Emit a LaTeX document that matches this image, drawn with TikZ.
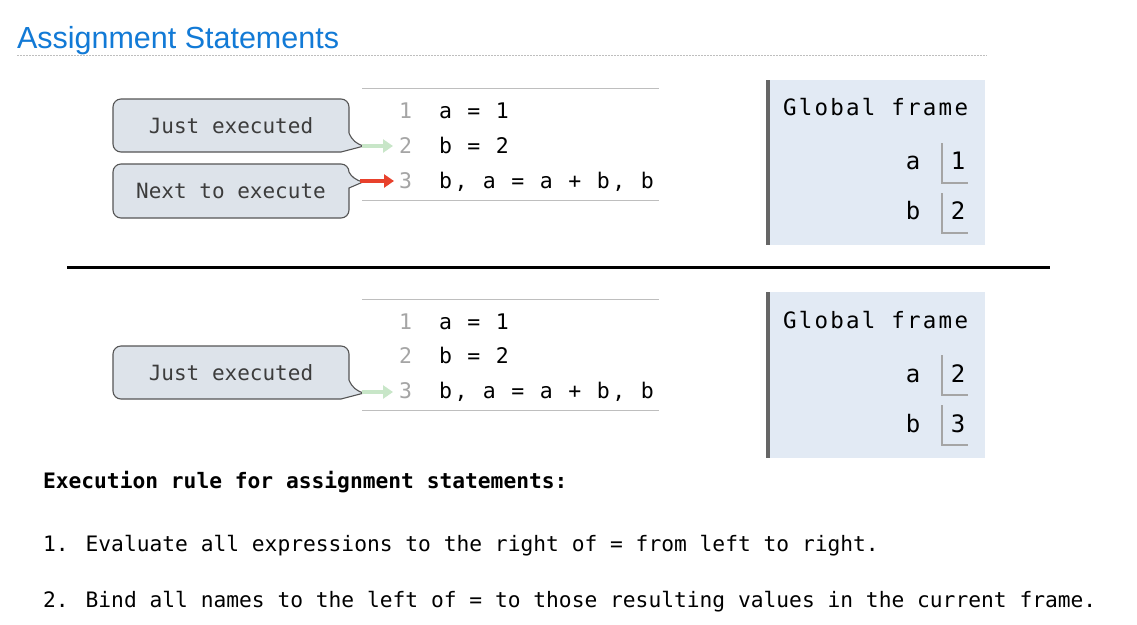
\documentclass[tikz,border=0pt]{standalone}
\usepackage{fontspec}
\usetikzlibrary{arrows.meta}
\newfontfamily\codefont[LetterSpace=12]{DejaVu Sans Mono}
\newfontfamily\framefont[LetterSpace=10]{DejaVu Sans Mono}
\newfontfamily\monofont{DejaVu Sans Mono}
\newfontfamily\titlefont{Liberation Sans}
\definecolor{titleblue}{RGB}{18,122,214}
\definecolor{calloutfill}{RGB}{221,227,234}
\definecolor{framefill}{RGB}{226,234,244}
\definecolor{justgreen}{RGB}{200,230,200}
\definecolor{nextred}{RGB}{232,65,44}
\definecolor{numgray}{RGB}{165,165,165}
\definecolor{rulegray}{RGB}{190,190,190}
\definecolor{calloutline}{RGB}{85,85,85}
\definecolor{callouttext}{RGB}{60,60,60}
\begin{document}
\begin{tikzpicture}[x=1pt,y=-1pt,
  every node/.style={inner sep=0pt,outer sep=0pt},
  codetxt/.style={anchor=base west,font=\codefont\fontsize{21.5}{25}\selectfont},
  numtxt/.style={anchor=base east,font=\codefont\fontsize{21.5}{25}\selectfont,text=numgray},
  frametxt/.style={font=\framefont\fontsize{22.5}{27}\selectfont},
  vartxt/.style={anchor=base,font=\monofont\fontsize{24}{28}\selectfont},
  calloutbox/.style={draw=calloutline,fill=calloutfill,line width=1.1pt},
  callouttxt/.style={font=\monofont\fontsize{21}{25}\selectfont,text=callouttext},
  codeline/.style={draw=rulegray,line width=1pt},
  framebg/.style={fill=framefill},
  frameedge/.style={draw=black!60,line width=4pt},
  valline/.style={draw=numgray,line width=1.5pt},
  justarrow/.style={draw=justgreen,line width=4.5pt,-{Triangle[length=10pt,width=13pt]}},
  nextarrow/.style={draw=nextred,line width=4.5pt,-{Triangle[length=10pt,width=13pt]}},
  ruletxt/.style={anchor=base west,font=\monofont\fontsize{21.25}{25}\selectfont}
]
\useasboundingbox[fill=white] (0,0) rectangle (1137,624);

% title
\node[anchor=base west,font=\titlefont\fontsize{30.5}{36}\selectfont,text=titleblue] (title) at (17,48) {Assignment Statements};
\draw[rulegray,line width=1pt,dash pattern=on 1.5pt off 1.5pt] (17,55) -- (987,55);

% ---------- top section ----------
\draw[codeline] (362,88) -- (659,88);
\draw[codeline] (362,200) -- (659,200);
\node[numtxt] (n1) at (412,118.5) {1};
\node[numtxt] (n2) at (412,153.5) {2};
\node[numtxt] (n3) at (412,188.5) {3};
\node[codetxt] (c1) at (439,118.5) {a = 1};
\node[codetxt] (c2) at (439,153.5) {b = 2};
\node[codetxt] (c3) at (439,188.5) {b, a = a + b, b};

% callouts
\draw[calloutbox] (121,99) -- (341,99) .. controls (345.4,99) and (349,102.6) .. (349,107) -- (349,133)
  .. controls (352,140) and (356,144) .. (364,146) -- (341,152) -- (121,152)
  .. controls (116.6,152) and (113,148.4) .. (113,144) -- (113,107)
  .. controls (113,102.6) and (116.6,99) .. (121,99) -- cycle;
\node[callouttxt] (just1) at (231,125.5) {Just executed};
\draw[calloutbox] (121,164) -- (341,164) .. controls (345.4,164) and (349,167.6) .. (349,172)
  .. controls (351,176) and (355,180) .. (363,182) -- (349,188) -- (349,210)
  .. controls (349,214.4) and (345.4,218) .. (341,218) -- (121,218)
  .. controls (116.6,218) and (113,214.4) .. (113,210) -- (113,172)
  .. controls (113,167.6) and (116.6,164) .. (121,164) -- cycle;
\node[callouttxt] (next1) at (231,191) {Next to execute};

\coordinate (jtip1) at (362,146);
\coordinate (jend1) at (393,146);
\coordinate (ntip1) at (360,181);
\coordinate (nend1) at (394,181);
\draw[justarrow] (jtip1) -- (jend1);
\draw[nextarrow] (ntip1) -- (nend1);

% frame
\fill[framebg] (766,80) rectangle (985,245);
\draw[frameedge] (768,80) -- (768,245);
\node[frametxt,anchor=base west] (gf1) at (783,115) {Global frame};
\node[vartxt] (fa1) at (913,169) {a};
\node[vartxt] (fv1) at (958,169) {1};
\node[vartxt] (fb1) at (913,219) {b};
\node[vartxt] (fw1) at (958,219) {2};
\draw[valline] (942,143) -- (942,183) -- (968,183);
\draw[valline] (942,193) -- (942,233) -- (968,233);

% separator
\draw[line width=3pt] (67,267) -- (1050,267);

% ---------- bottom section ----------
\draw[codeline] (362,299) -- (659,299);
\draw[codeline] (362,410) -- (659,410);
\node[numtxt] (m1) at (412,329.5) {1};
\node[numtxt] (m2) at (412,363.5) {2};
\node[numtxt] (m3) at (412,398.5) {3};
\node[codetxt] (d1) at (439,329.5) {a = 1};
\node[codetxt] (d2) at (439,363.5) {b = 2};
\node[codetxt] (d3) at (439,398.5) {b, a = a + b, b};

\begin{scope}[shift={(0,247)}]
\draw[calloutbox] (121,99) -- (341,99) .. controls (345.4,99) and (349,102.6) .. (349,107) -- (349,133)
  .. controls (352,140) and (356,144) .. (364,146) -- (341,152) -- (121,152)
  .. controls (116.6,152) and (113,148.4) .. (113,144) -- (113,107)
  .. controls (113,102.6) and (116.6,99) .. (121,99) -- cycle;
\node[callouttxt] (just2) at (231,125.5) {Just executed};
\coordinate (jtip2) at (362,145);
\coordinate (jend2) at (393,145);
\end{scope}
\draw[justarrow] (jtip2) -- (jend2);

\fill[framebg] (766,292) rectangle (985,458);
\draw[frameedge] (768,292) -- (768,458);
\node[frametxt,anchor=base west] (gf2) at (783,328) {Global frame};
\node[vartxt] (fa2) at (913,382) {a};
\node[vartxt] (fv2) at (958,382) {2};
\node[vartxt] (fb2) at (913,432) {b};
\node[vartxt] (fw2) at (958,432) {3};
\draw[valline] (942,355) -- (942,395) -- (968,395);
\draw[valline] (942,405) -- (942,445) -- (968,445);

% rules
\node[ruletxt,font=\monofont\bfseries\fontsize{21.25}{25}\selectfont] (rule) at (43,488) {Execution rule for assignment statements:};
\node[ruletxt] (r1) at (43,551) {1. Evaluate all expressions to the right of = from left to right.};
\node[ruletxt] (r2) at (43,607) {2. Bind all names to the left of = to those resulting values in the current frame.};
\end{tikzpicture}
\end{document}
